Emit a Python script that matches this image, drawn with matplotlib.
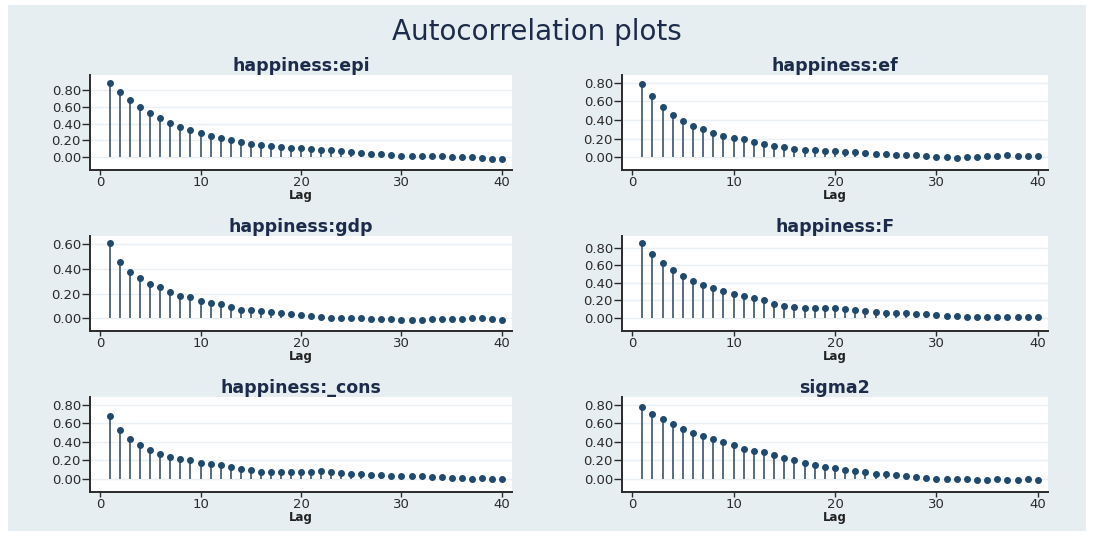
import numpy as np
import matplotlib
matplotlib.use("Agg")
import matplotlib.pyplot as plt
from matplotlib.patches import Rectangle

# autocorrelations, lags 1..40
lags = np.arange(1, 41)

acf_epi = [0.88, 0.78, 0.68, 0.60, 0.53, 0.47, 0.41, 0.36, 0.32, 0.29,
           0.256, 0.228, 0.20, 0.18, 0.16, 0.144, 0.128, 0.12, 0.108, 0.104,
           0.096, 0.088, 0.08, 0.072, 0.064, 0.052, 0.04, 0.032, 0.02, 0.012,
           0.008, 0.008, 0.008, 0.008, 0.004, 0.0, -0.004, -0.008, -0.02, -0.028]

acf_ef = [0.79, 0.655, 0.54, 0.455, 0.39, 0.335, 0.30, 0.26, 0.23, 0.207,
          0.19, 0.164, 0.138, 0.12, 0.109, 0.09, 0.08, 0.073, 0.062, 0.062,
          0.058, 0.055, 0.044, 0.036, 0.036, 0.025, 0.025, 0.018, 0.011, 0.0,
          -0.004, -0.007, -0.004, 0.0, 0.007, 0.011, 0.018, 0.015, 0.011, 0.011]

acf_gdp = [0.605, 0.457, 0.377, 0.323, 0.277, 0.25, 0.215, 0.18, 0.17, 0.143,
           0.126, 0.113, 0.089, 0.067, 0.067, 0.059, 0.051, 0.04, 0.032, 0.024,
           0.019, 0.013, 0.005, 0.0, 0.0, 0.0, -0.003, -0.003, -0.008, -0.016,
           -0.013, -0.013, -0.008, -0.008, -0.008, -0.003, 0.003, 0.005, -0.005, -0.013]

acf_F = [0.85, 0.73, 0.627, 0.55, 0.48, 0.415, 0.377, 0.338, 0.30, 0.27,
         0.242, 0.22, 0.196, 0.158, 0.135, 0.12, 0.115, 0.108, 0.108, 0.108,
         0.10, 0.088, 0.08, 0.07, 0.058, 0.05, 0.05, 0.042, 0.038, 0.03,
         0.023, 0.019, 0.012, 0.004, 0.004, 0.004, 0.004, 0.004, 0.008, 0.008]

acf_cons = [0.675, 0.525, 0.425, 0.36, 0.31, 0.268, 0.24, 0.218, 0.20, 0.175,
            0.157, 0.15, 0.125, 0.104, 0.09, 0.075, 0.075, 0.075, 0.068, 0.068,
            0.075, 0.079, 0.068, 0.06, 0.054, 0.046, 0.043, 0.036, 0.025, 0.025,
            0.025, 0.025, 0.021, 0.014, 0.011, 0.004, 0.0, 0.004, -0.007, 0.0]

acf_sigma2 = [0.775, 0.70, 0.649, 0.595, 0.54, 0.497, 0.465, 0.429, 0.393, 0.36,
              0.32, 0.303, 0.285, 0.26, 0.227, 0.198, 0.173, 0.151, 0.126, 0.112,
              0.097, 0.083, 0.068, 0.054, 0.047, 0.036, 0.025, 0.018, 0.011, 0.0,
              -0.004, -0.004, -0.007, -0.011, -0.011, -0.007, -0.011, -0.011, -0.007, -0.011]

titles = ["happiness:epi", "happiness:ef", "happiness:gdp",
          "happiness:F", "happiness:_cons", "sigma2"]
series = [acf_epi, acf_ef, acf_gdp, acf_F, acf_cons, acf_sigma2]

# axis ranges per panel
ylims = [(-0.155, 0.98), (-0.14, 0.886), (-0.103, 0.665),
         (-0.153, 0.934), (-0.143, 0.882), (-0.145, 0.882)]
yticks_all = [[0, 0.2, 0.4, 0.6, 0.8]] * 6
yticks_all[2] = [0, 0.2, 0.4, 0.6]

W, H = 1094, 541
fig = plt.figure(figsize=(W / 100, H / 100), dpi=100)
fig.patch.set_facecolor("white")
bg = Rectangle((8 / W, 1 - 531 / H), (1086 - 8) / W, (531 - 5) / H,
               transform=fig.transFigure, facecolor="#e6eef1",
               edgecolor="none", zorder=-10)
fig.add_artist(bg)

navy = "#1c2b4a"
fig.text(537 / W, 1 - 32 / H, "Autocorrelation plots", ha="center", va="center",
         fontsize=20, color=navy, family="DejaVu Sans")

lefts = [90, 622]
widths = [422, 426]
tops = [75, 236, 397]
ph = 95

for i, (name, vals) in enumerate(zip(titles, series)):
    r, c = divmod(i, 2)
    ax = fig.add_axes([lefts[c] / W, 1 - (tops[r] + ph) / H, widths[c] / W, ph / H])
    ax.set_facecolor("white")
    ax.vlines(lags, 0, vals, color="#3b556b", linewidth=1.2, zorder=3)
    ax.plot(lags, vals, "o", color="#1f4a6e", markersize=4, zorder=4)
    ax.set_xlim(-1, 41)
    ax.set_ylim(*ylims[i])
    ax.set_xticks([0, 10, 20, 30, 40])
    ax.set_yticks(yticks_all[i])
    ax.set_yticklabels(["%.2f" % t for t in yticks_all[i]])
    ax.grid(axis="y", color="#e9eff2", linewidth=1.0, zorder=0)
    for s in ["top", "right"]:
        ax.spines[s].set_visible(False)
    for s in ["left", "bottom"]:
        ax.spines[s].set_color("#2a2a2a")
        ax.spines[s].set_linewidth(1.4)
    ax.tick_params(axis="y", length=5.5, width=1.0, labelsize=9.5, pad=1, colors="#2a2a2a")
    ax.tick_params(axis="x", length=3.5, width=1.0, labelsize=9.5, pad=1, colors="#2a2a2a")
    ax.set_title(name, fontsize=12.5, fontweight="bold", color=navy, pad=3)
    ax.set_xlabel("Lag", fontsize=8.5, fontweight="bold", color="#222222", labelpad=0)

fig.savefig("out.png", dpi=100)
